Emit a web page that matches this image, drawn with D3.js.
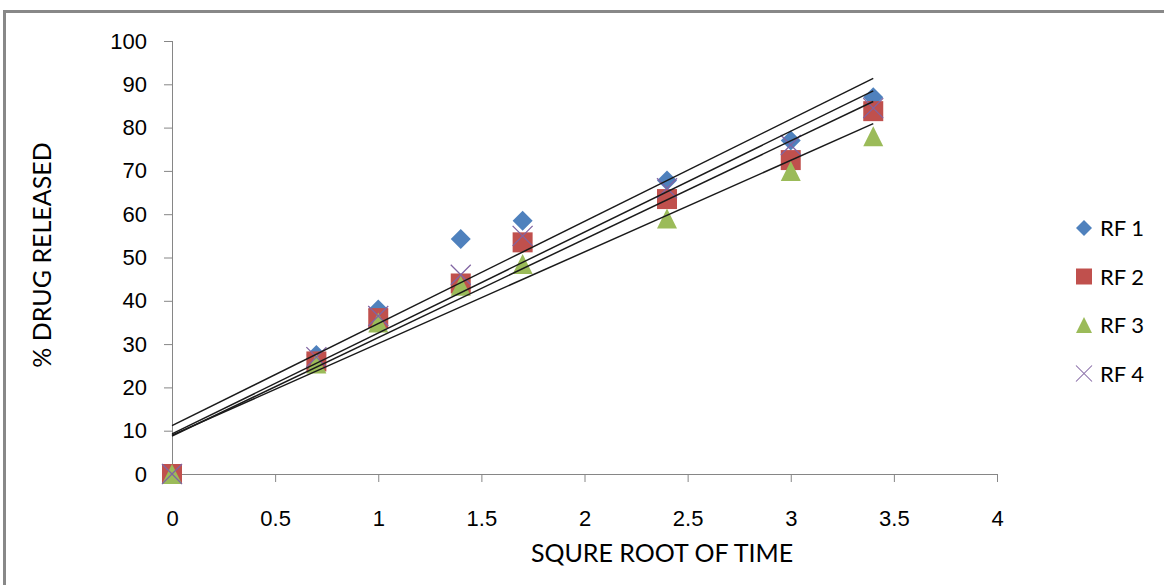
<!DOCTYPE html>
<meta charset="utf-8">
<style>
body { margin: 0; background: #fff; }
svg { display: block; font-family: Lato, "Open Sans", sans-serif; }
.axis path, .axis line { stroke: #868686; stroke-width: 1px; }
.axis text { fill: #000; font-size: 22px; }
.trend { stroke: #1a1a1a; stroke-width: 1.5px; fill: none; }
</style>
<body>
<svg width="1164" height="585"></svg>
<script src="https://d3js.org/d3.v7.min.js"></script>
<script>
// data
var xVals = [0, 0.7, 1, 1.4, 1.7, 2.4, 3, 3.4];
var rf1 = [0, 27.5, 38, 54.3, 58.5, 67.8, 77, 87];
var rf2 = [0, 26, 36, 44, 53.5, 63.5, 72.5, 83.8];
var rf3 = [0, 25.5, 35, 43.5, 48.5, 59, 70, 78];
var rf4 = [0, 27, 36.5, 46, 55, 66, 76, 84.5];
var seriesNames = ["RF 1", "RF 2", "RF 3", "RF 4"];
var xTicks = [0, 0.5, 1, 1.5, 2, 2.5, 3, 3.5, 4];
var yTicks = [0, 10, 20, 30, 40, 50, 60, 70, 80, 90, 100];

var series = [
  { name: seriesNames[0], values: rf1, color: "#4F81BD", shape: "diamond" },
  { name: seriesNames[1], values: rf2, color: "#C0504D", shape: "square" },
  { name: seriesNames[2], values: rf3, color: "#9BBB59", shape: "triangle" },
  { name: seriesNames[3], values: rf4, color: "#8064A2", shape: "cross" }
];

var svg = d3.select("svg");

// outer chart frame (runs off the right/bottom of the picture)
svg.append("rect")
  .attr("x", 4.5).attr("y", 11.5)
  .attr("width", 1200).attr("height", 620)
  .attr("fill", "#fff")
  .attr("stroke", "#888").attr("stroke-width", 3);

var x = d3.scaleLinear().domain([0, 4]).range([172, 997]);
var y = d3.scaleLinear().domain([0, 100]).range([474, 41]);

svg.append("g")
  .attr("class", "axis")
  .attr("transform", "translate(0,474)")
  .call(d3.axisBottom(x).tickValues(xTicks).tickSize(8).tickPadding(28)
    .tickSizeOuter(0).tickFormat(d3.format("")))
  .call(function(g) { g.select(".domain").attr("d", "M172.5,0.5H997.5"); });

svg.append("g")
  .attr("class", "axis")
  .attr("transform", "translate(172,0)")
  .call(d3.axisLeft(y).tickValues(yTicks).tickSize(8).tickPadding(17)
    .tickSizeOuter(0))
  .call(function(g) { g.select(".domain").attr("d", "M0.5,41V474"); });

svg.append("text")
  .attr("x", 662).attr("y", 562)
  .attr("text-anchor", "middle")
  .attr("font-size", 25)
  .text("SQURE ROOT OF TIME");

svg.append("text")
  .attr("transform", "translate(51,255) rotate(-90)")
  .attr("text-anchor", "middle")
  .attr("font-size", 25)
  .text("% DRUG RELEASED");

function markerPath(shape) {
  if (shape == "diamond") return "M0,-10L10,0L0,10L-10,0Z";
  if (shape == "square") return "M-10,-10H10V10H-10Z";
  if (shape == "triangle") return "M0,-10L10,10H-10Z";
  return "M-10,-10L10,10M10,-10L-10,10";
}

function drawMarker(g, shape, color) {
  var p = g.append("path").attr("d", markerPath(shape));
  if (shape == "cross") {
    p.attr("fill", "none").attr("stroke", color).attr("stroke-width", 1.3);
  } else {
    p.attr("fill", color);
  }
}

// markers
series.forEach(function(s) {
  var g = svg.append("g");
  g.selectAll("g")
    .data(s.values)
    .enter().append("g")
    .attr("transform", function(d, i) { return "translate(" + x(xVals[i]) + "," + y(d) + ")"; })
    .each(function() { drawMarker(d3.select(this), s.shape, s.color); });
});

// linear trend lines (least squares)
function fit(xs, ys) {
  var mx = d3.mean(xs), my = d3.mean(ys);
  var sxy = 0, sxx = 0;
  xs.forEach(function(v, i) { sxy += (v - mx) * (ys[i] - my); sxx += (v - mx) * (v - mx); });
  var b = sxy / sxx;
  return { slope: b, icept: my - b * mx };
}

var x0 = d3.min(xVals), x1 = d3.max(xVals);
series.forEach(function(s) {
  var f = fit(xVals, s.values);
  svg.append("line")
    .attr("class", "trend")
    .attr("x1", x(x0)).attr("y1", y(f.icept + f.slope * x0))
    .attr("x2", x(x1)).attr("y2", y(f.icept + f.slope * x1));
});

// legend
var legend = svg.append("g").attr("transform", "translate(1084,228)");
series.forEach(function(s, i) {
  var row = legend.append("g").attr("transform", "translate(0," + (i * 48.5) + ")");
  var m = row.append("g").attr("transform", "scale(0.8)");
  drawMarker(m, s.shape, s.color);
  row.append("text")
    .attr("x", 16).attr("y", 8)
    .attr("font-size", 22)
    .text(s.name);
});
</script>
</body>
